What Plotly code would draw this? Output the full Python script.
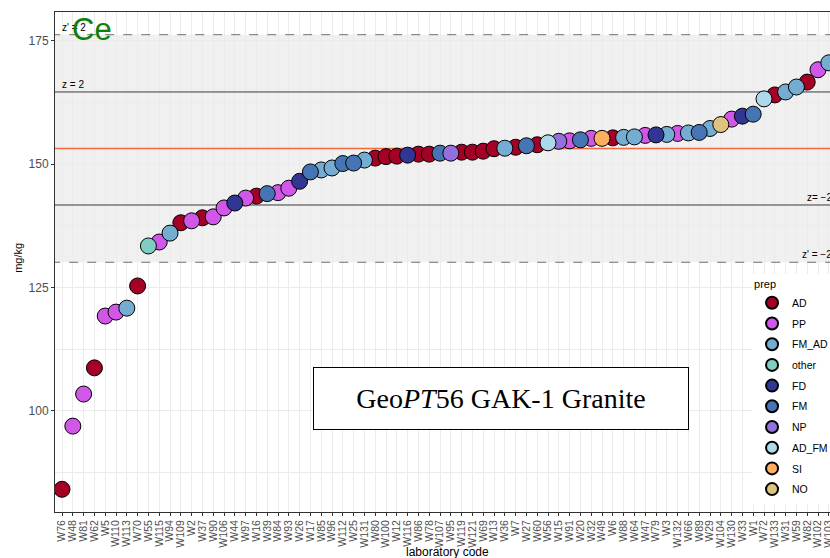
import plotly.graph_objects as go

# lab codes in plotting order (sorted by reported value)
labs = ["W76", "W48", "W81", "W62", "W5", "W110", "W113", "W70", "W55", "W115",
        "W94", "W109", "W2", "W37", "W90", "W106", "W44", "W97", "W16", "W39",
        "W84", "W93", "W26", "W17", "W85", "W96", "W112", "W25", "W131", "W80",
        "W100", "W12", "W116", "W86", "W78", "W107", "W95", "W119", "W121", "W69",
        "W13", "W36", "W7", "W27", "W60", "W56", "W15", "W91", "W20", "W32",
        "W49", "W6", "W88", "W64", "W47", "W79", "W3", "W132", "W66", "W89",
        "W29", "W104", "W130", "W33", "W1", "W72", "W133", "W31", "W59", "W82",
        "W102", "W103"]

ce = [84.1, 96.9, 103.4, 108.7, 119.2, 120.0, 120.8, 125.3, 133.4, 134.2,
      136.0, 138.1, 138.5, 139.1, 139.3, 141.1, 142.1, 143.1, 143.5, 144.0,
      144.2, 145.1, 146.5, 148.4, 148.8, 149.2, 150.1, 150.2, 150.8, 151.2,
      151.5, 151.6, 151.8, 152.0, 152.0, 152.2, 152.2, 152.4, 152.4, 152.6,
      153.1, 153.2, 153.4, 153.7, 153.9, 154.3, 154.6, 154.7, 154.9, 155.2,
      155.2, 155.3, 155.4, 155.5, 155.8, 155.9, 156.0, 156.2, 156.3, 156.4,
      157.2, 158.0, 159.1, 159.7, 160.1, 163.2, 164.0, 164.6, 165.6, 166.6,
      169.1, 170.5]

prep = ["AD", "PP", "PP", "AD", "PP", "PP", "FM_AD", "AD", "other", "PP",
        "FM_AD", "AD", "PP", "AD", "PP", "PP", "FD", "PP", "AD", "FM",
        "PP", "PP", "FD", "FM", "FM_AD", "FM_AD", "FM", "FM", "FM_AD", "AD",
        "AD", "AD", "FD", "AD", "AD", "FM", "NP", "AD", "AD", "AD",
        "AD", "FM_AD", "AD", "FM", "AD", "AD_FM", "NP", "PP", "FM", "PP",
        "SI", "AD", "FM_AD", "FM_AD", "PP", "FD", "FM_AD", "PP", "FM_AD", "FM",
        "FM_AD", "NO", "PP", "FD", "FM", "AD_FM", "AD", "FM_AD", "FM_AD", "AD",
        "PP", "FM_AD"]

prep_levels = ["AD", "PP", "FM_AD", "other", "FD", "FM", "NP", "AD_FM", "SI", "NO"]
prep_colors = ["#a50026", "#d157e8", "#74add1", "#80cdc1", "#313695",
               "#4575b4", "#9370db", "#abd9e9", "#fdae61", "#dfc27d"]

assigned = 153.15
z_lo, z_hi = 141.7, 164.6
zp_lo, zp_hi = 130.1, 176.2

fig = go.Figure()

for lvl, col in zip(prep_levels, prep_colors):
    idx = [i for i, p in enumerate(prep) if p == lvl]
    fig.add_trace(go.Scatter(
        x=[labs[i] for i in idx], y=[ce[i] for i in idx],
        mode="markers", name=lvl, legendgroup=lvl,
        marker=dict(size=16, color=col, line=dict(color="black", width=1))))

# z' band, then reference lines between gridlines and points
fig.add_shape(type="rect", xref="paper", x0=0, x1=1, y0=zp_lo, y1=zp_hi,
              fillcolor="#f0f0f0", line_width=0, layer="below")
x_from, x_to = -1, len(labs)
for yv in (zp_lo, zp_hi):
    fig.add_shape(type="line", x0=x_from, x1=x_to, y0=yv, y1=yv,
                  line=dict(color="#6e6e6e", width=1, dash="dash"), layer="between")
for yv in (z_lo, z_hi):
    fig.add_shape(type="line", x0=x_from, x1=x_to, y0=yv, y1=yv,
                  line=dict(color="#3a3a3a", width=1), layer="between")
fig.add_shape(type="line", x0=x_from, x1=x_to, y0=assigned, y1=assigned,
              line=dict(color="#f4683f", width=1.5), layer="between")

small = dict(family="Liberation Sans", size=10, color="black")
fig.add_annotation(text="z' = 2", xref="paper", x=0.006, y=zp_hi, xanchor="left",
                   yanchor="bottom", showarrow=False, font=small)
fig.add_annotation(text="z = 2", xref="paper", x=0.006, y=z_hi, xanchor="left",
                   yanchor="bottom", showarrow=False, font=small)
fig.add_annotation(text="z= \u22122", xref="paper", x=0.968, y=z_lo, xanchor="left",
                   yanchor="bottom", showarrow=False, font=small)
fig.add_annotation(text="z' = \u22122", xref="paper", x=0.961, y=zp_lo, xanchor="left",
                   yanchor="bottom", showarrow=False, font=small)

fig.add_annotation(text="Ce", xref="paper", yref="paper", x=0.048, y=0.965,
                   xanchor="center", yanchor="middle", showarrow=False,
                   font=dict(family="Liberation Sans", size=31, color="#0a800a"))

fig.add_annotation(text="Geo<i>PT</i>56 GAK-1 Granite", xref="paper", yref="paper",
                   x=0.5755, y=0.227, xanchor="center", yanchor="middle",
                   showarrow=False, width=362, height=49,
                   borderpad=6, bgcolor="white", bordercolor="black", borderwidth=1,
                   font=dict(family="Liberation Serif", size=28, color="black"))

fig.add_annotation(text="laboratory code", xref="paper", yref="paper", x=0.506, y=-0.08,
                   xanchor="center", yanchor="middle", showarrow=False,
                   font=dict(family="Liberation Sans", size=12, color="black"))
fig.add_annotation(text="mg/kg", xref="paper", yref="paper", x=-0.048, y=0.508,
                   xanchor="center", yanchor="middle", textangle=-90, showarrow=False,
                   font=dict(family="Liberation Sans", size=11, color="black"))

# autoexpand off so the legend does not squeeze the plot
fig.update_layout(
    width=830, height=558,
    margin=dict(l=55, r=0, t=12, b=46, autoexpand=False),
    paper_bgcolor="white", plot_bgcolor="white",
    font=dict(family="Liberation Sans", color="#4d4d4d"),
    legend=dict(title=dict(text="prep", font=dict(size=11, color="black")),
                font=dict(size=10.5, color="black"), bgcolor="white",
                x=0.8994, y=0.476, xanchor="left", yanchor="top",
                itemsizing="constant", tracegroupgap=1.7),
    xaxis=dict(type="category", categoryorder="array", categoryarray=labs,
               range=[-0.65, 71.11], tickmode="linear", dtick=1, tickangle=-90,
               tickfont=dict(size=10.5, color="#4d4d4d"),
               showgrid=True, gridcolor="#ebebeb", gridwidth=1,
               showline=True, mirror=True, linecolor="#333333", linewidth=1,
               ticks="outside", ticklen=3, tickcolor="#333333", automargin=False),
    yaxis=dict(range=[79.5, 180.8], tickvals=[100, 125, 150, 175],
               tickfont=dict(size=12, color="#4d4d4d"),
               showgrid=True, gridcolor="#ebebeb", gridwidth=1.1, zeroline=False,
               minor=dict(tickvals=[87.5, 112.5, 137.5, 162.5], showgrid=True,
                          gridcolor="#ebebeb", gridwidth=0.5),
               showline=True, mirror=False, linecolor="#333333", linewidth=1,
               ticks="outside", ticklen=3, tickcolor="#333333", automargin=False),
)

# drop the default page margin so the 830x558 figure fills the window exactly
fig.write_html("out.html", config={"displayModeBar": False},
               post_script="document.body.style.margin='0';"
                           "document.body.style.overflow='hidden';")
